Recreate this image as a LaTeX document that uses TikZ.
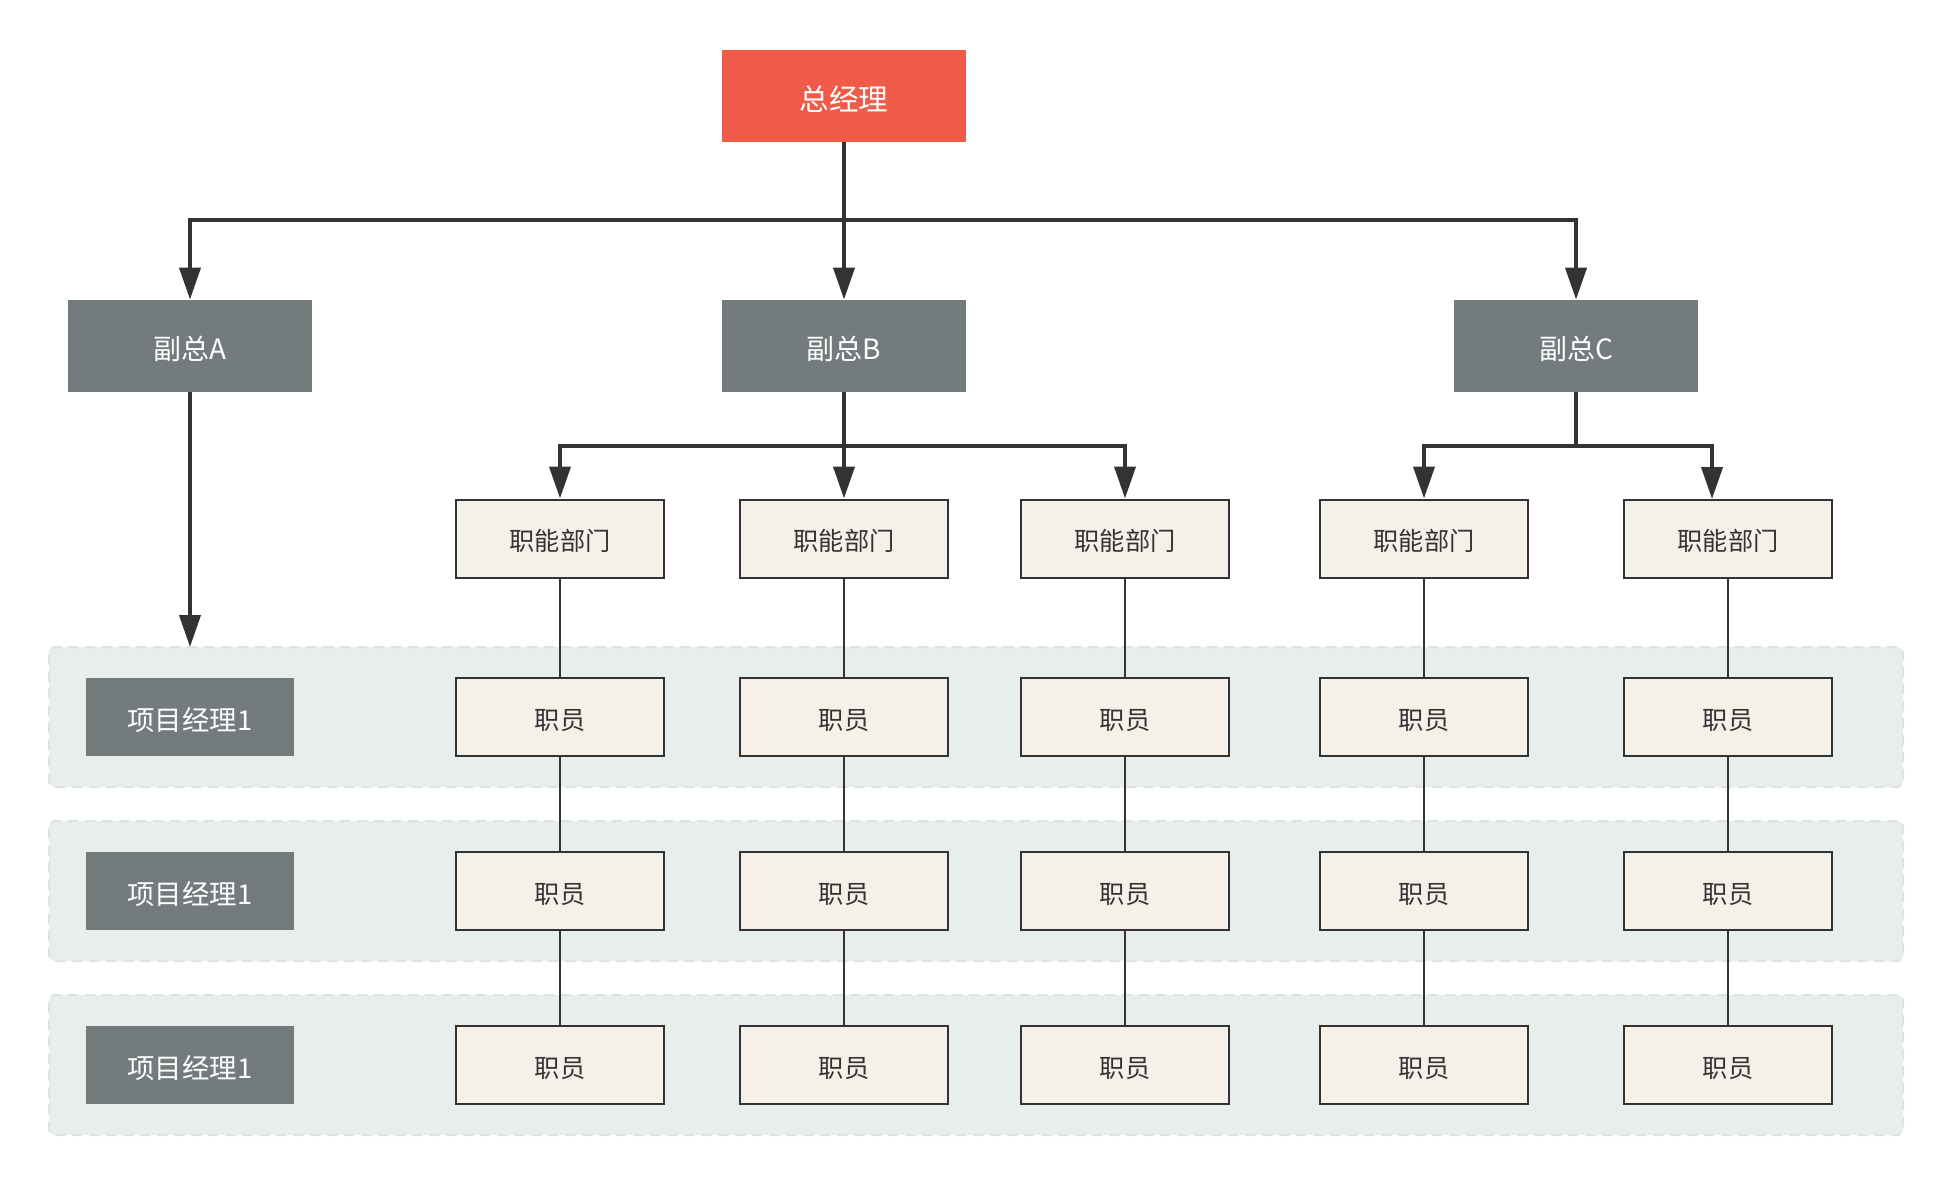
\documentclass[tikz,border=0pt]{standalone}
\usepackage{fontspec}
\setmainfont{Noto Sans CJK SC}
\usetikzlibrary{arrows.meta}
\definecolor{bossred}{HTML}{F05A48}
\definecolor{vpgray}{HTML}{737B7D}
\definecolor{deptfill}{HTML}{F5F1E8}
\definecolor{lanefill}{HTML}{E8EEEC}
\definecolor{laneline}{HTML}{DCE3E1}
\definecolor{linkdark}{HTML}{333333}
\tikzset{
  every node/.style={text depth=0pt},
  boss/.style={fill=bossred, text=white, minimum width=122pt, minimum height=46pt,
    text height=14.3pt, font=\fontsize{14.8pt}{16pt}\selectfont},
  vp/.style={fill=vpgray, text=white, minimum width=122pt, minimum height=46pt,
    text height=13.6pt, font=\fontsize{14pt}{16pt}\selectfont},
  pm/.style={fill=vpgray, text=white, minimum width=104pt, minimum height=39pt,
    text height=13.3pt, font=\fontsize{13.7pt}{15pt}\selectfont},
  dept/.style={draw=linkdark, line width=1pt, fill=deptfill, text=linkdark,
    minimum width=104pt, minimum height=39pt, text height=12.2pt,
    font=\fontsize{12.6pt}{14pt}\selectfont},
  lane/.style={fill=lanefill, draw=laneline, dash pattern=on 5pt off 3.5pt,
    line width=1pt, rounded corners=3pt, minimum width=927pt, minimum height=70pt},
  arr/.style={draw=linkdark, line width=2pt, -{Triangle[width=10.5pt,length=16pt]}},
  bar/.style={draw=linkdark, line width=2pt},
  link/.style={draw=linkdark, line width=1pt}
}
\begin{document}
\begin{tikzpicture}[x=0.5pt,y=-0.5pt]
  \useasboundingbox (0,0) rectangle (1952,1185);
  % project lanes
  \foreach \r/\y in {1/717,2/891,3/1065} {
    \node[lane] (lane\r) at (976,\y) {};
    \node[pm] (pm\r) at (190,\y) {项目经理1};
  }
  \node[boss] (boss) at (844,96) {总经理};
  \node[vp] (vpA) at (190,346) {副总A};
  \node[vp] (vpB) at (844,346) {副总B};
  \node[vp] (vpC) at (1576,346) {副总C};
  % departments and staff
  \foreach \c/\x in {1/560,2/844,3/1125,4/1424,5/1728} {
    \node[dept] (dept\c) at (\x,538.5) {职能部门};
    \foreach \r/\y in {1/717,2/891,3/1065}
      \node[dept] (staff\c-\r) at (\x,\y) {职员};
    \draw[link] (dept\c) -- (staff\c-1) -- (staff\c-2) -- (staff\c-3);
  }
  \coordinate (bus) at (844,220);
  \coordinate (busB) at (844,446);
  \coordinate (busC) at (1576,446);
  \coordinate (laneA) at (190,647);
  \coordinate (dept5in) at (1712,499);
  \draw[arr] (boss) -- (vpB);
  \draw[arr] (bus) -| (vpA);
  \draw[arr] (bus) -| (vpC);
  \draw[arr] (vpA) -- (laneA);
  \draw[arr] (vpB) -- (dept2);
  \draw[arr] (busB) -| (dept1);
  \draw[arr] (busB) -| (dept3);
  \draw[bar] (vpC) -- (busC);
  \draw[arr] (busC) -| (dept4);
  \draw[arr] (busC) -| (dept5in);
\end{tikzpicture}
\end{document}
